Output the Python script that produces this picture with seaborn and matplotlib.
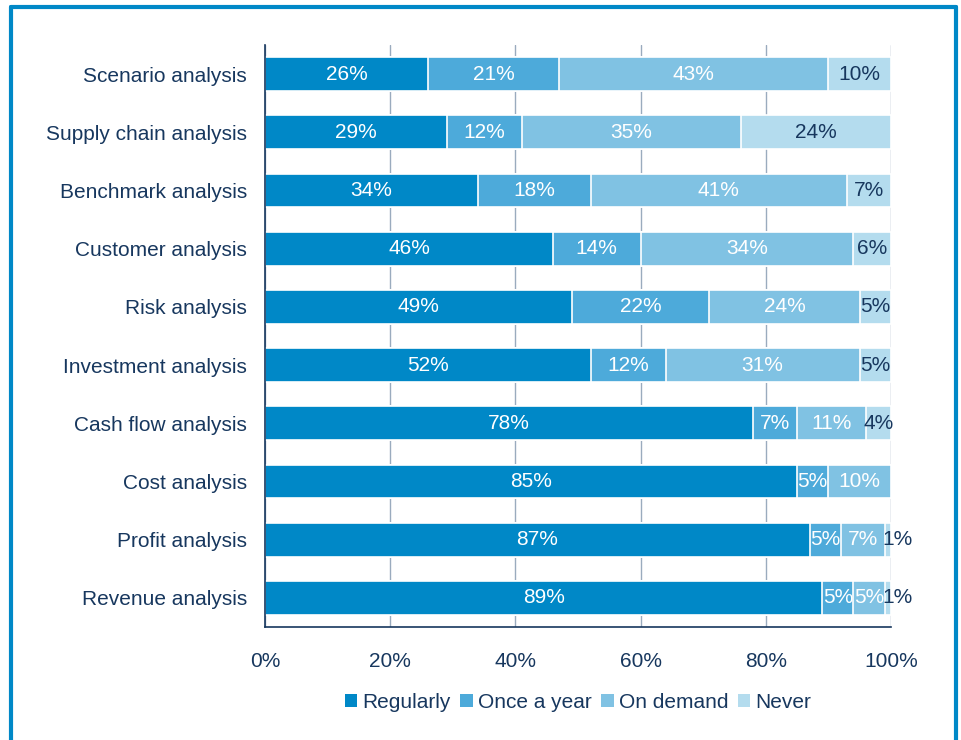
import matplotlib
matplotlib.use("Agg")
import matplotlib.pyplot as plt
from matplotlib.patches import Patch
from matplotlib.lines import Line2D
import numpy as np
import pandas as pd
import seaborn as sns

categories = ["Scenario analysis", "Supply chain analysis", "Benchmark analysis",
              "Customer analysis", "Risk analysis", "Investment analysis",
              "Cash flow analysis", "Cost analysis", "Profit analysis",
              "Revenue analysis"]
series_names = ["Regularly", "Once a year", "On demand", "Never"]
regularly = [26, 29, 34, 46, 49, 52, 78, 85, 87, 89]
once_a_year = [21, 12, 18, 14, 22, 12, 7, 5, 5, 5]
on_demand = [43, 35, 41, 34, 24, 31, 11, 10, 7, 5]
never = [10, 24, 7, 6, 5, 5, 4, 0, 1, 1]
x_ticks = [0, 20, 40, 60, 80, 100]

colors = ["#0088C7", "#4DAADA", "#80C2E3", "#B4DCEE"]
label_colors = ["white", "white", "white", "#17375E"]
navy = "#17375E"
grid_col = "#9AABBE"

sns.set_theme(style="white")
plt.rcParams["font.family"] = ["Liberation Sans", "DejaVu Sans"]

values = np.array([regularly, once_a_year, on_demand, never], dtype=float)
cum = values.cumsum(axis=0)

fig = plt.figure(figsize=(9.62, 7.40), dpi=100)
ax = fig.add_axes([265 / 962, 1 - 627 / 740, (891 - 265) / 962, (627 - 45) / 740])

# Stacked bars: draw cumulative totals from the last series back to the first
for i in range(len(series_names) - 1, -1, -1):
    df = pd.DataFrame({"category": categories, "value": cum[i]})
    sns.barplot(data=df, x="value", y="category", order=categories, orient="h",
                color=colors[i], saturation=1, width=0.58, edgecolor="white",
                linewidth=1.2, ax=ax, zorder=3)

# Segment value labels (very thin segments get their label pushed right)
for i in range(len(series_names)):
    for j in range(len(categories)):
        v = values[i, j]
        if v <= 0:
            continue
        xc = cum[i, j] - v / 2
        dx = 7 if v < 2 else 0
        ax.annotate(f"{int(v)}%", xy=(xc, j), xytext=(dx, 0),
                    textcoords="offset points", ha="center", va="center",
                    color=label_colors[i], fontsize=15, zorder=5,
                    annotation_clip=False)

ax.set_xlim(0, 100)
ax.set_ylim(len(categories) - 0.5, -0.5)
ax.set_xticks(x_ticks)
ax.set_xticklabels([f"{t}%" for t in x_ticks])
ax.set_xlabel("")
ax.set_ylabel("")
ax.grid(axis="x", color=grid_col, linewidth=1.0, zorder=0)
ax.grid(axis="y", visible=False)
ax.set_axisbelow(True)

for side in ["top", "right"]:
    ax.spines[side].set_visible(False)
for side in ["left", "bottom"]:
    ax.spines[side].set_color(navy)
    ax.spines[side].set_linewidth(1.2)
    ax.spines[side].set_zorder(6)

ax.tick_params(axis="x", length=0, pad=18, labelsize=15, labelcolor=navy)
ax.tick_params(axis="y", which="major", length=0, pad=13, labelsize=15,
               labelcolor=navy)
ax.set_yticks(np.arange(-0.5, len(categories) + 0.5, 1.0), minor=True)
ax.tick_params(axis="y", which="minor", direction="in", length=5,
               width=1.2, color=navy)

handles = [Patch(facecolor=c, edgecolor="none") for c in colors]
ax.legend(handles, series_names, loc="center", bbox_to_anchor=(0.5, -0.13),
          ncol=4, frameon=False, fontsize=15, labelcolor=navy,
          handlelength=0.6, handleheight=0.6, handletextpad=0.25,
          columnspacing=0.45)

# Blue frame around the figure
frame_col = "#0088C7"
lw = 3
fig.add_artist(Line2D([11 / 962, 11 / 962], [0, 1 - 7 / 740], color=frame_col,
                      lw=lw, transform=fig.transFigure))
fig.add_artist(Line2D([11 / 962, 956 / 962], [1 - 7 / 740, 1 - 7 / 740],
                      color=frame_col, lw=lw, transform=fig.transFigure))
fig.add_artist(Line2D([956 / 962, 956 / 962], [0, 1 - 7 / 740], color=frame_col,
                      lw=lw, transform=fig.transFigure))

fig.savefig("out.png", dpi=100)
